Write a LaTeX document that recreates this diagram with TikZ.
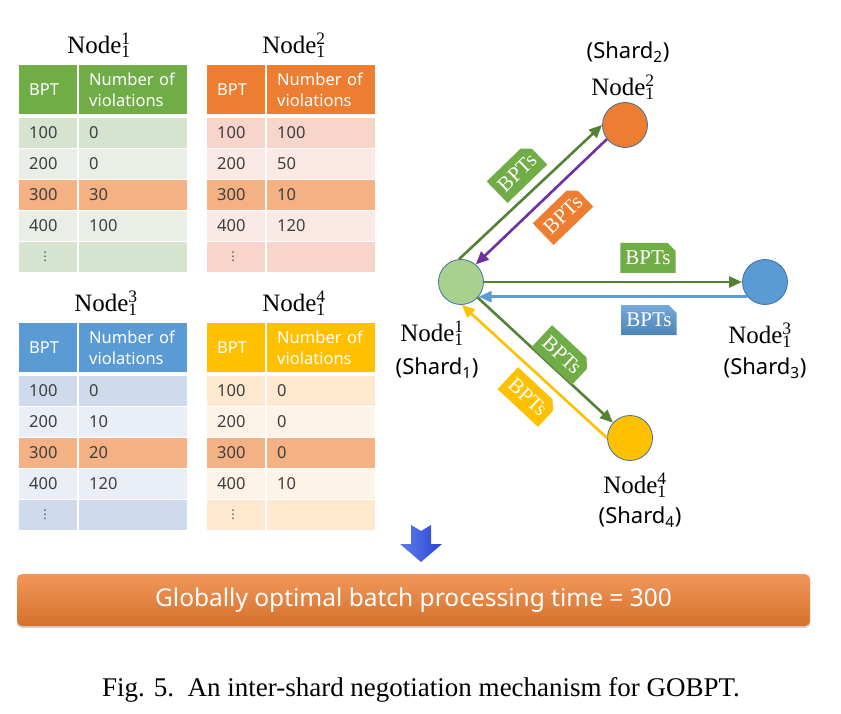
\documentclass[tikz,border=0pt]{standalone}
\usepackage{fontspec}
\setmainfont{Liberation Serif}
\setsansfont{Noto Sans}
\newfontfamily\symfont{DejaVu Sans}
\usetikzlibrary{positioning,arrows.meta,shapes.misc,shadows}

\definecolor{hdgreen}{HTML}{70AD47}
\definecolor{hdorange}{HTML}{ED7D31}
\definecolor{hdblue}{HTML}{5B9BD5}
\definecolor{hdyellow}{HTML}{FFC000}
\definecolor{gA}{HTML}{D5E3CF}
\definecolor{gB}{HTML}{E9EFE6}
\definecolor{oA}{HTML}{F8D5CB}
\definecolor{oB}{HTML}{FBE9E5}
\definecolor{bA}{HTML}{CFDBEC}
\definecolor{bB}{HTML}{E9EEF7}
\definecolor{yA}{HTML}{FEE8CF}
\definecolor{yB}{HTML}{FEF3E7}
\definecolor{hilite}{HTML}{F4B183}
\definecolor{txtgray}{HTML}{404040}
\definecolor{lgreen}{HTML}{548235}
\definecolor{lpurple}{HTML}{7030A0}
\definecolor{rim}{HTML}{41719C}
\definecolor{ndgreen}{HTML}{A9D18E}

\newcommand{\nodename}[1]{Node\rlap{\textsuperscript{#1}}\textsubscript{1}}

\begin{document}
\begin{tikzpicture}[x=1pt, y=-1pt,
    ttl/.style={font=\fontsize{25}{28}\selectfont, inner sep=0pt},
    shd/.style={font=\sffamily\fontsize{22}{26}\selectfont, inner sep=0pt},
    hd/.style={anchor=north west, minimum height=49pt, inner ysep=0pt, inner xsep=10pt,
      align=left, text=white, font=\sffamily\fontsize{16.5}{20.5}\selectfont},
    cell/.style={anchor=north west, minimum height=29.5pt, inner ysep=0pt, inner xsep=10pt,
      align=left, text=txtgray, font=\sffamily\fontsize{16.5}{20}\selectfont},
    ca/.style={text width=38pt},
    cb/.style={text width=88pt},
    vtx/.style={circle, draw=rim, line width=0.8pt, minimum size=45pt, inner sep=0pt},
    msg/.style={line width=2.6pt, -{Triangle[length=13pt,width=11pt]}},
    bpt/.style={chamfered rectangle, chamfered rectangle corners=north east,
      chamfered rectangle xsep=4pt, chamfered rectangle ysep=4pt,
      minimum width=53pt, minimum height=30pt, inner sep=1pt, text=white,
      font=\fontsize{21}{22}\selectfont},
    bar/.style={rounded corners=5pt, minimum width=793pt, minimum height=52pt,
      top color=hdorange!80!white, bottom color=hdorange!90!black, text=white,
      font=\sffamily\fontsize{24.5}{28}\selectfont,
      drop shadow={opacity=0.35, shadow xshift=0pt, shadow yshift=-2pt}}]
  \useasboundingbox (0,0) rectangle (841,714);

  % the four BPT tables
  \foreach \tb/\x/\y/\tx/\ty/\hc/\colA/\colB/\vals in {
      1/19/65/99/45/hdgreen/gA/gB/{100/0,200/0,300/30,400/100},
      2/207/65/294/45/hdorange/oA/oB/{100/100,200/50,300/10,400/120},
      3/19/323/106/303/hdblue/bA/bB/{100/0,200/10,300/20,400/120},
      4/207/323/294/303/hdyellow/yA/yB/{100/0,200/0,300/0,400/10}} {
    \node[ttl] (t\tb) at (\tx,\ty) {\nodename{\tb}};
    \node[hd, ca, fill=\hc] (t\tb-h-a) at (\x,\y) {BPT};
    \node[hd, cb, fill=\hc] (t\tb-h-b) at (\x+60,\y) {Number of\\violations};
    \foreach \bp/\nv [count=\row] in \vals {
      \ifodd\row \def\rc{\colA}\else\def\rc{\colB}\fi
      \ifnum\row=3 \def\rc{hilite}\fi
      \node[cell, ca, fill=\rc] (t\tb-r\row-a) at (\x,{\y+53+(\row-1)*31}) {\bp};
      \node[cell, cb, fill=\rc] (t\tb-r\row-b) at (\x+60,{\y+53+(\row-1)*31}) {\nv};
    }
    \node[cell, ca, fill=\colA] (t\tb-r5-a) at (\x,\y+177)
      {\hspace*{10pt}{\symfont\fontsize{12}{12}\selectfont ⋮}};
    \node[cell, cb, fill=\colA] (t\tb-r5-b) at (\x+60,\y+177) {};
  }

  % shards
  \node[vtx, fill=ndgreen] (n1) at (461,282) {};
  \node[vtx, fill=hdorange] (n2) at (625,125) {};
  \node[vtx, fill=hdblue] (n3) at (765,282) {};
  \node[vtx, fill=hdyellow] (n4) at (630,438) {};

  \node[ttl] (l1) at (432,333) {\nodename{1}};
  \node[shd] (s1) at (437,368) {(Shard\textsubscript{1})};
  \node[ttl] (l2) at (623,87) {\nodename{2}};
  \node[shd] (s2) at (628,52) {(Shard\textsubscript{2})};
  \node[ttl] (l3) at (760,335) {\nodename{3}};
  \node[shd] (s3) at (765,368) {(Shard\textsubscript{3})};
  \node[ttl] (l4) at (635,485) {\nodename{4}};
  \node[shd] (s4) at (640,517) {(Shard\textsubscript{4})};

  \draw[msg, lgreen] (n1.95) -- (n2.180);
  \draw[msg, lpurple] (n2.218) -- (n1.50);
  \draw[msg, lgreen] (n1.0) -- (n3.180);
  \draw[msg, hdblue] (n3.220) -- (n1.-40);
  \draw[msg, lgreen] (n1.-43) -- (n4.138);
  \draw[msg, hdyellow] (n4.180) -- (n1.-88);

  \node[bpt, fill=hdgreen, rotate=44] (m12) at (517,173) {BPTs};
  \node[bpt, fill=hdorange, rotate=44] (m21) at (563,215) {BPTs};
  \node[bpt, fill=hdgreen] (m13) at (648,258) {BPTs};
  \node[bpt, top color=hdblue!85!white, bottom color=hdblue!85!black] (m31) at (649,320) {BPTs};
  \node[bpt, fill=hdgreen, rotate=-43] (m14) at (562,355) {BPTs};
  \node[bpt, fill=hdyellow, rotate=-43] (m41) at (528,397) {BPTs};

  % result
  \shade[left color=hdblue!60!blue!80!white, right color=hdblue!50!blue!90!black]
    (411,525) -- (421,531) -- (431,525) -- (431,544) -- (442,544) -- (421,562)
    -- (400,544) -- (411,544) -- cycle;
  \node[bar] (res) at (413.5,600) {Globally optimal batch processing time = 300};

  \node[font=\fontsize{27}{30}\selectfont] (cap) at (421,690)
    {Fig. 5.\ \ An inter-shard negotiation mechanism for GOBPT.};
\end{tikzpicture}
\end{document}
